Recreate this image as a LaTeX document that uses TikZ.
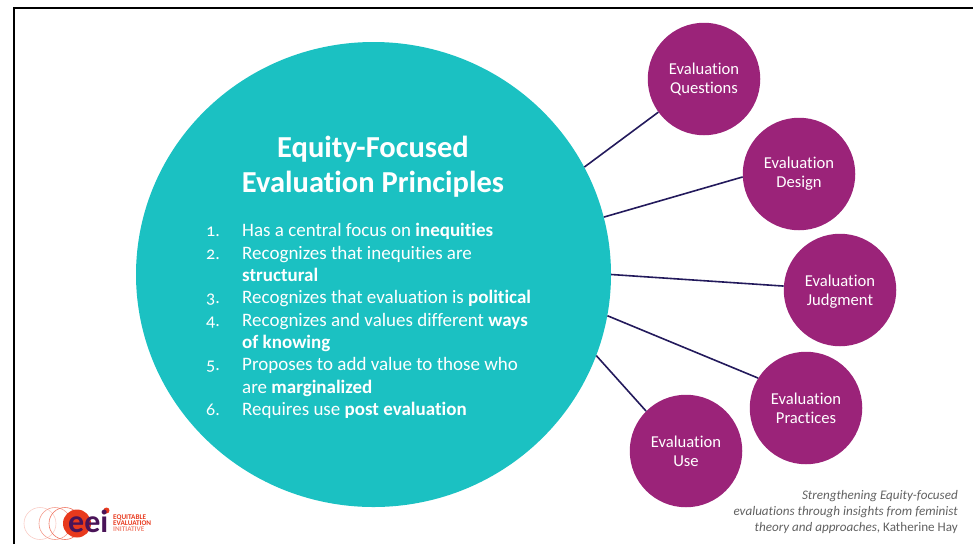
\documentclass[tikz,border=0pt]{standalone}
\usepackage{fontspec}
\setmainfont{Carlito}[Numbers=OldStyle,Ligatures=NoCommon]
\usetikzlibrary{shapes.geometric}
\definecolor{teal1}{HTML}{1BC1C2}
\definecolor{purp}{HTML}{9B2379}
\definecolor{navy}{HTML}{231A5C}
\definecolor{eeired}{HTML}{E8391D}
\definecolor{eeipurp}{HTML}{4A1458}
\tikzset{
  small/.style={circle,fill=purp,minimum size=112.5pt,inner sep=0pt,text=white,align=center,font=\fontsize{16.6}{19.2}\selectfont},
  link/.style={draw=navy,line width=1.6pt},
  listtxt/.style={anchor=base west,inner sep=0pt,text=white,font=\fontsize{19}{20}\selectfont},
  listnum/.style={anchor=base west,inner sep=0pt,text=white,font=\fontsize{18}{20}\selectfont},
  title/.style={anchor=base,inner sep=0pt,text=white,font=\fontsize{30.5}{34}\selectfont\bfseries},
  cite/.style={anchor=base east,inner sep=0pt,text=black!62,font=\fontsize{13.1}{15}\selectfont},
  ring/.style={circle,minimum size=32pt,inner sep=0pt,line width=.6pt},
  logotxt/.style={anchor=base west,inner sep=0pt,font=\fontsize{7.2}{6}\selectfont\bfseries}
}
\begin{document}
\begin{tikzpicture}[x=1pt,y=-1pt]
\useasboundingbox (0,0) rectangle (973,544);
\coordinate (tl) at (14,8);
\coordinate (tr) at (973,8);
\coordinate (bl) at (14,544);
\draw[line width=2.2pt,black,line cap=butt,line join=miter] (bl) -- (tl) -- (tr);
% big circle
\node[ellipse,fill=teal1,minimum width=475pt,minimum height=465pt,inner sep=0pt] (big) at (373.5,274.5) {};
% satellites
\node[small] (q) at (704,79) {Evaluation\\Questions};
\node[small] (d) at (799,174) {Evaluation\\Design};
\node[small] (j) at (840,290) {\rule{0pt}{15pt}Evaluation\\Judgment};
\node[small] (p) at (806,408) {Evaluation\\Practices};
\node[small] (u) at (686,451) {Evaluation\\Use};
% connectors
\draw[link] (big.27) -- (q.216);
\draw[link] (big.14.5) -- (d.183);
\draw[link] (big.0) -- (j.176);
\draw[link] (big.-10.6) -- (p.148.5);
\draw[link] (big.-20) -- (u.135);
% title
\node[title] (t1) at (373,157) {Equity-Focused};
\node[title] (t2) at (373,192) {Evaluation Principles};
% list
\node[listnum] (n1) at (206,236) {1.};
\node[listtxt] (l1) at (242,236) {Has a central focus on \textbf{inequities}};
\node[listnum] (n2) at (206,259) {2.};
\node[listtxt] (l2) at (242,259) {Recognizes that inequities are};
\node[listtxt] (l2b) at (242,281) {\textbf{structural}};
\node[listnum] (n3) at (206,303) {3.};
\node[listtxt] (l3) at (242,303) {Recognizes that evaluation is \textbf{political}};
\node[listnum] (n4) at (206,326) {4.};
\node[listtxt] (l4) at (242,326) {Recognizes and values different \textbf{ways}};
\node[listtxt] (l4b) at (242,348) {\textbf{of knowing}};
\node[listnum] (n5) at (206,370) {5.};
\node[listtxt] (l5) at (242,370) {Proposes to add value to those who};
\node[listtxt] (l5b) at (242,393) {are \textbf{marginalized}};
\node[listnum] (n6) at (206,415) {6.};
\node[listtxt] (l6) at (242,415) {Requires use \textbf{post evaluation}};
% citation
\node[cite] (c1) at (958,499) {\itshape Strengthening Equity-focused};
\node[cite] (c2) at (958,515) {\itshape evaluations through insights from feminist};
\node[cite] (c3) at (958,531) {\textit{theory and approaches}, Katherine Hay};
% logo
\node[ring,draw=eeired!25] (r1) at (40,523.5) {};
\node[ring,draw=eeired!50] (r2) at (55,523.5) {};
\node[ring,draw=eeired!70] (r3) at (65,523.5) {};
\node[circle,fill=eeired,minimum size=28pt,inner sep=0pt] (r4) at (77,523.5) {};
\node[circle,fill=eeired,minimum size=6pt,inner sep=0pt] (dot) at (106.5,510.5) {};
\node[anchor=base west,inner sep=0pt,text=eeipurp,font=\fontsize{32}{32}\selectfont\bfseries] (eei) at (68,532) {eei};
\node[logotxt,text=eeired] (e1) at (113,519.5) {EQUITABLE};
\node[logotxt,text=eeired] (e2) at (113,525.5) {EVALUATION};
\node[logotxt,text=eeired!60] (e3) at (113,531.5) {INITIATIVE};
\end{tikzpicture}
\end{document}
